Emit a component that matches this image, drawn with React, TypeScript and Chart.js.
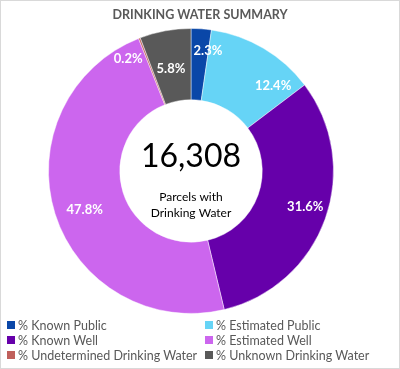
import React, { useEffect, useRef } from "react";
import { Chart, registerables } from "chart.js";

Chart.register(...registerables);

const categories = [
  "% Known Public",
  "% Estimated Public",
  "% Known Well",
  "% Estimated Well",
  "% Undetermined Drinking Water",
  "% Unknown Drinking Water",
];
const values = [2.3, 12.4, 31.6, 47.8, 0.2, 5.8];
const colors = ["#0a47a8", "#66d4f6", "#6600aa", "#cc66ee", "#c0605c", "#595959"];
const totalParcels = 16308;
const centerCaption = ["Parcels with", "Drinking Water"];
const titleText = "DRINKING WATER SUMMARY";

// label placement tweaks (angle offset in degrees from the slice middle, radial fraction in ring)
const labelAngleOffset = [3.9, 13.4, -2.4, -2.7, -8.1, -0.7];
const labelRadial = [0.7, 0.66, 0.68, 0.59, 0.8, 0.46];

const FONT = "Lato, 'Open Sans', sans-serif";

const labelPlugin = {
  id: "sliceLabels",
  afterDatasetsDraw(chart: any) {
    const meta = chart.getDatasetMeta(0);
    const ctx = chart.ctx;
    ctx.save();
    ctx.fillStyle = "#ffffff";
    ctx.font = `bold 13px ${FONT}`;
    ctx.textAlign = "center";
    ctx.textBaseline = "middle";
    meta.data.forEach((arc: any, i: number) => {
      const p = arc.getProps(["x", "y", "startAngle", "endAngle", "innerRadius", "outerRadius"], true);
      const mid = (p.startAngle + p.endAngle) / 2 + (labelAngleOffset[i] * Math.PI) / 180;
      const r = p.innerRadius + (p.outerRadius - p.innerRadius) * labelRadial[i];
      ctx.fillText(values[i].toFixed(1) + "%", p.x + Math.cos(mid) * r, p.y + Math.sin(mid) * r);
    });
    const a0 = meta.data[0];
    if (a0) {
      const cx = a0.x;
      const cy = a0.y;
      ctx.fillStyle = "#000000";
      ctx.font = `32px ${FONT}`;
      ctx.fillText(totalParcels.toLocaleString("en-US"), cx, cy - 14);
      ctx.font = `12px ${FONT}`;
      ctx.fillText(centerCaption[0], cx, cy + 26);
      ctx.fillText(centerCaption[1], cx, cy + 42);
    }
    ctx.restore();
  },
};

export default function App() {
  const ref = useRef<HTMLCanvasElement>(null);
  useEffect(() => {
    document.body.style.margin = "0";
    const chart = new Chart(ref.current!, {
      type: "doughnut",
      data: {
        labels: categories,
        datasets: [
          {
            data: values,
            backgroundColor: colors,
            borderColor: "rgba(255,255,255,0.45)",
            borderWidth: 1,
            hoverOffset: 0,
          },
        ],
      },
      options: {
        responsive: false,
        animation: false,
        cutout: "50%",
        layout: { padding: { top: 28, bottom: 55, left: 48, right: 66 } },
        plugins: {
          legend: { display: false },
          tooltip: { enabled: false },
          title: { display: false },
        },
      },
      plugins: [labelPlugin],
    });
    return () => chart.destroy();
  }, []);

  return (
    <div style={{ position: "relative", width: 400, height: 369, background: "#fff", fontFamily: FONT }}>
      <canvas ref={ref} width={400} height={369} style={{ position: "absolute", left: 0, top: 0 }} />
      <div
        style={{
          position: "absolute",
          top: 6,
          left: 0,
          width: 400,
          textAlign: "center",
          fontWeight: "bold",
          fontSize: 12.5,
          color: "#595959",
          lineHeight: "18px",
        }}
      >
        {titleText}
      </div>
      <div style={{ position: "absolute", left: 7, top: 317, width: 393 }}>
        {categories.map((c, i) => (
          <div
            key={c}
            style={{
              position: "absolute",
              left: i % 2 === 0 ? 0 : 198,
              top: Math.floor(i / 2) * 15,
              display: "flex",
              alignItems: "center",
              height: 16,
              fontSize: 12.5,
              color: "#595959",
              whiteSpace: "nowrap",
            }}
          >
            <span style={{ display: "inline-block", width: 8, height: 8, background: colors[i], marginRight: 3 }} />
            {c}
          </div>
        ))}
      </div>
      <div
        style={{
          position: "absolute",
          inset: 0,
          border: "1px solid #d9d9d9",
          boxSizing: "border-box",
          pointerEvents: "none",
        }}
      />
    </div>
  );
}
